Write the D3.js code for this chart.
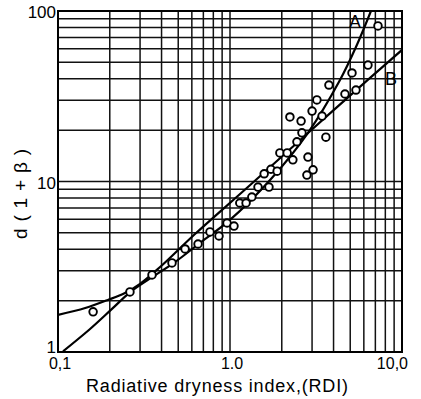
<!DOCTYPE html>
<html>
<head>
<meta charset="utf-8">
<script src="https://cdn.jsdelivr.net/npm/d3@7"></script>
<style>
  html, body { margin: 0; padding: 0; background: #fff; }
  svg { display: block; }
  text { font-family: "Liberation Sans", Arial, sans-serif; fill: #000; }
</style>
</head>
<body>
<svg id="chart" width="421" height="399"></svg>
<script>
// ---- data ----
const xTickValues = [0.1, 1, 10];
const xTickLabels = ["0,1", "1.0", "10,0"];
const yTickValues = [1, 10, 100];
const yTickLabels = ["1", "10", "100"];

const pointX = [0.16, 0.262, 0.352, 0.46, 0.548, 0.652, 0.765, 0.863, 0.961, 1.055,
  1.14, 1.24, 1.34, 1.455, 1.58, 1.685, 1.73, 1.88, 1.95, 2.15,
  2.32, 2.45, 2.62, 2.23, 2.59, 3.0, 3.2, 3.43, 2.84, 3.04,
  2.80, 3.61, 3.76, 4.66, 5.40, 5.12, 6.34, 7.25];
const pointY = [1.72, 2.25, 2.83, 3.33, 4.02, 4.30, 5.06, 4.79, 5.71, 5.48,
  7.48, 7.48, 8.11, 9.28, 11.1, 9.28, 11.8, 11.5, 14.7, 14.7,
  13.4, 17.1, 19.3, 23.9, 22.6, 25.9, 30.1, 24.2, 13.9, 11.7,
  10.9, 18.2, 36.8, 32.6, 34.4, 43.3, 48.2, 81.7];

const curveAX = [0.107, 0.153, 0.206, 0.262, 0.343, 0.479, 0.669, 1.0, 1.71, 2.84, 4.36, 5.40, 6.60];
const curveAY = [1.01, 1.36, 1.79, 2.24, 2.70, 3.37, 4.36, 5.95, 10.2, 19.3, 39.4, 61.5, 100];
const curveBX = [0.1, 0.144, 0.195, 0.245, 0.300, 0.392, 0.626, 1.31, 2.80, 6.52, 10];
const curveBY = [1.65, 1.81, 2.02, 2.22, 2.51, 3.15, 4.92, 9.54, 19.0, 40.5, 59.1];
const curveNames = ["A", "B"];
const curveLabelX = [5.33, 8.63];
const curveLabelY = [79.5, 36.8];

const xLabel = "Radiative dryness index,(RDI)";
const yLabel = "d(1+\u03B2)";

// ---- drawing ----
const svg = d3.select("#chart");
const x = d3.scaleLog().domain([0.1, 10]).range([58, 402]);
const y = d3.scaleLog().domain([1, 100]).range([352, 11]);

svg.append("defs").append("clipPath").attr("id", "plot")
  .append("rect").attr("x", 58).attr("y", 11).attr("width", 344).attr("height", 341);

// grid
svg.append("g").selectAll("line").data(x.ticks()).join("line")
  .attr("x1", d => x(d)).attr("x2", d => x(d))
  .attr("y1", y(1)).attr("y2", y(100))
  .attr("stroke", "#111").attr("stroke-width", 1.5);
svg.append("g").selectAll("line").data(y.ticks()).join("line")
  .attr("y1", d => y(d)).attr("y2", d => y(d))
  .attr("x1", x(0.1)).attr("x2", x(10))
  .attr("stroke", "#111").attr("stroke-width", 1.5);

// frame
svg.append("rect").attr("x", x(0.1)).attr("y", y(100))
  .attr("width", x(10) - x(0.1)).attr("height", y(1) - y(100))
  .attr("fill", "none").attr("stroke", "#000").attr("stroke-width", 2);

// curves
const line = d3.line().x(d => x(d[0])).y(d => y(d[1])).curve(d3.curveCatmullRom.alpha(0.5));
const curves = [d3.zip(curveAX, curveAY), d3.zip(curveBX, curveBY)];
svg.append("g").attr("clip-path", "url(#plot)").selectAll("path").data(curves).join("path")
  .attr("d", line).attr("fill", "none").attr("stroke", "#000").attr("stroke-width", 2.2);

// points
svg.append("g").selectAll("circle").data(d3.zip(pointX, pointY)).join("circle")
  .attr("cx", d => x(d[0])).attr("cy", d => y(d[1])).attr("r", 3.8)
  .attr("fill", "#fff").attr("stroke", "#000").attr("stroke-width", 1.9);

// curve labels
svg.append("g").selectAll("text").data(curveNames).join("text")
  .attr("x", (d, i) => x(curveLabelX[i])).attr("y", (d, i) => y(curveLabelY[i]))
  .attr("font-size", 18).attr("text-anchor", "middle").text(d => d);

// y tick labels
svg.append("g").selectAll("text").data(yTickValues).join("text")
  .attr("x", 56).attr("y", d => y(d) + (d === 1 ? 1 : 7))
  .attr("text-anchor", "end").attr("font-size", 17)
  .text((d, i) => yTickLabels[i]);

// x tick labels
svg.append("g").selectAll("text").data(xTickValues).join("text")
  .attr("x", (d, i) => i === 2 ? x(d) + 6 : x(d) + 2)
  .attr("y", 369)
  .attr("text-anchor", (d, i) => i === 2 ? "end" : "middle")
  .attr("font-size", 16)
  .text((d, i) => xTickLabels[i]);

// axis titles
svg.append("text").attr("x", 86).attr("y", 392).attr("font-size", 18)
  .attr("textLength", 262).attr("lengthAdjust", "spacing").text(xLabel);
svg.append("text").attr("transform", "translate(27,194) rotate(-90)")
  .attr("text-anchor", "middle").attr("font-size", 19)
  .attr("textLength", 90).attr("lengthAdjust", "spacing")
  .text(yLabel);
</script>
</body>
</html>
